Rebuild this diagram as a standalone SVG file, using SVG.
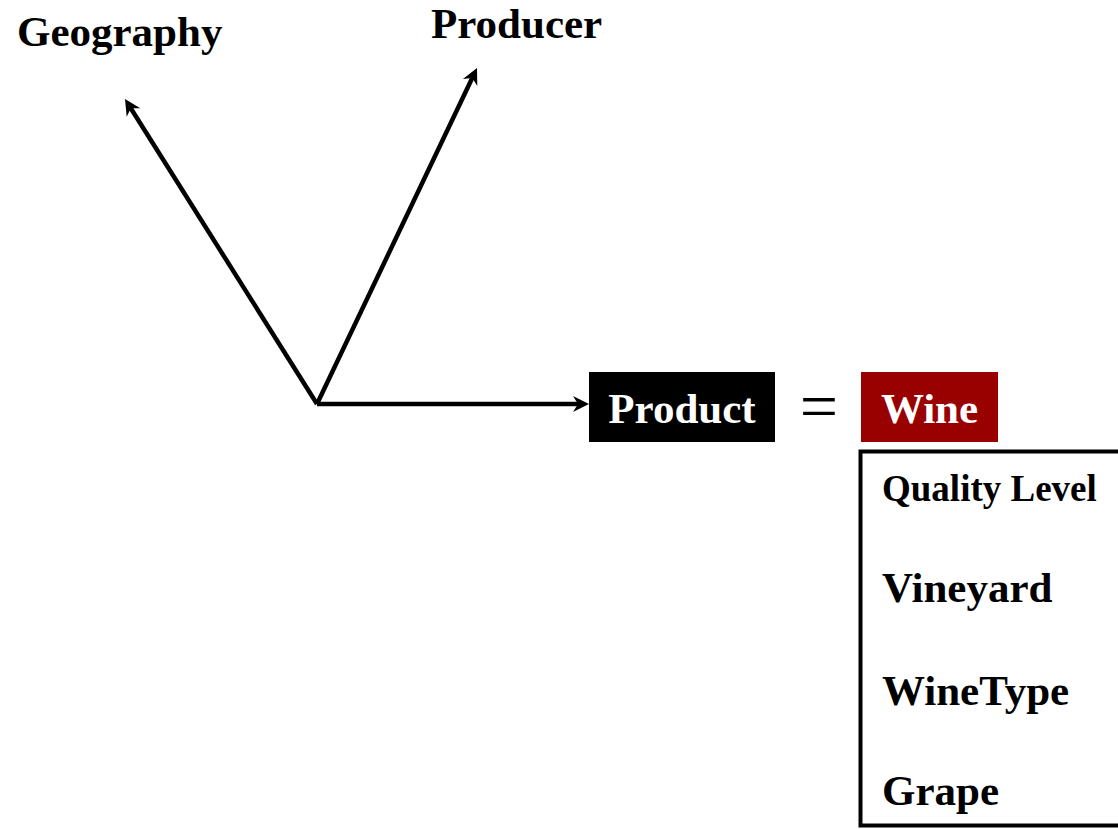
<svg xmlns="http://www.w3.org/2000/svg" width="1118" height="829" viewBox="0 0 1118 829">
<style>
text{font-family:"Liberation Serif","Times New Roman",serif;font-weight:bold}
.lbl{font-size:43px;fill:#000}
.inv{font-size:43px;fill:#fff}
.conn{stroke:#000;stroke-width:4.5;fill:none}
.head{fill:#000;stroke:none}
</style>
<rect width="1118" height="829" fill="#fff"/>
<g id="connectors">
<line class="conn" x1="317" y1="404" x2="130.3" y2="107.5"/>
<polygon class="head" points="125,99 140.3,108.3 130.9,108.3 126.7,116.8"/>
<line class="conn" x1="317" y1="404" x2="472.7" y2="77"/>
<polygon class="head" points="477,68 477.3,85.9 472.3,77.9 462.9,79"/>
<line class="conn" x1="317" y1="404" x2="579" y2="404"/>
<polygon class="head" points="589,404 573,412 578,404 573,396"/>
</g>
<g id="geography"><text class="lbl" x="17" y="46">Geography</text></g>
<g id="producer"><text class="lbl" x="431" y="38">Producer</text></g>
<g id="product"><rect x="589" y="372" width="186" height="70" fill="#000"/><text class="inv" x="682" y="423" text-anchor="middle">Product</text></g>
<g id="equals"><text x="819" y="429" text-anchor="middle" font-size="68" style="font-weight:normal">=</text></g>
<g id="wine"><rect x="861" y="372" width="137" height="70" fill="#990000"/><text class="inv" x="929.5" y="423" text-anchor="middle">Wine</text></g>
<g id="attributes">
<rect x="860.5" y="451.5" width="262" height="374" fill="#fff" stroke="#000" stroke-width="4"/>
<text x="882" y="501" font-size="37">Quality Level</text>
<text class="lbl" x="882" y="602">Vineyard</text>
<text class="lbl" x="882" y="705">WineType</text>
<text class="lbl" x="882" y="805">Grape</text>
</g>
</svg>
